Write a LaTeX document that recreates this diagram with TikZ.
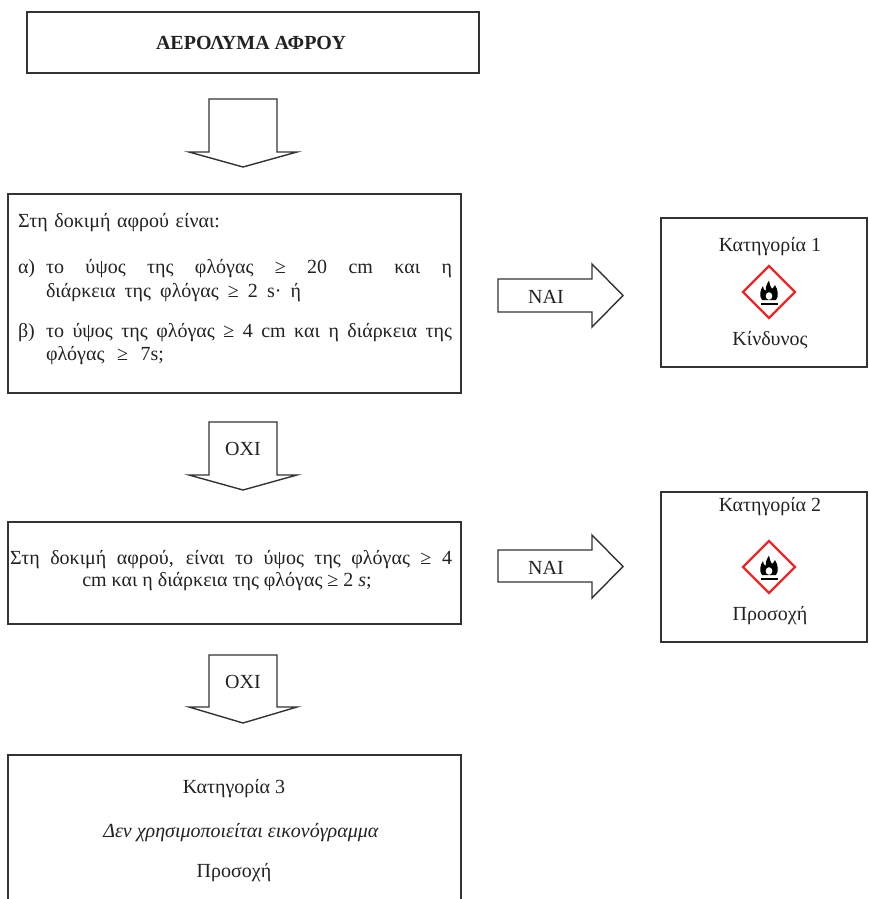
\documentclass[tikz,border=0pt]{standalone}
\usepackage{fontspec}
\setmainfont{Liberation Serif}
\definecolor{lc}{HTML}{333333}
\definecolor{tc}{HTML}{222222}
\definecolor{ghsred}{HTML}{E8282B}
\newcommand\txtsize{\fontsize{20}{24}\selectfont}
\begin{document}
\begin{tikzpicture}[x=1pt,y=-1pt,
  box/.style={draw=lc, line width=1.8pt, fill=white, inner sep=0pt, outer sep=0pt, rectangle},
  blockarrow/.style={draw=lc, line width=1.4pt, fill=white, line join=miter},
  txt/.style={inner sep=0pt, outer sep=0pt, text=tc, font=\txtsize},
  ghsflame/.pic={
    \draw[ghsred, line width=2.4pt, fill=white, line join=miter] (-26,0) -- (0,-26) -- (26,0) -- (0,26) -- cycle;
    \fill[black] (-7,8) .. controls (-10,4) and (-9,-2) .. (-6,-6)
      .. controls (-6,-3) and (-5,-2) .. (-3,-1)
      .. controls (-4,-5) and (-2,-8) .. (0,-11.5)
      .. controls (0,-8) and (2,-5) .. (3,-3)
      .. controls (4,-4) and (5,-5) .. (6,-7)
      .. controls (9,-2) and (10,4) .. (7,8) -- cycle;
    \fill[white] (0,4) ellipse [x radius=3.3, y radius=3.8];
    \fill[black] (-8.5,10.5) rectangle (8.5,12.5);
  }]
\useasboundingbox (0,0) rectangle (869,899);
\clip (0,0) rectangle (869,899);

% boxes
\node[box, minimum width=452pt, minimum height=61pt] (title) at (253,42.5) {};
\node[box, minimum width=453pt, minimum height=199pt] (q1) at (234.5,293.5) {};
\node[box, minimum width=453pt, minimum height=102pt] (q2) at (234.5,573) {};
\node[box, minimum width=453pt, minimum height=175pt] (c3) at (234.5,842.5) {};
\node[box, minimum width=206pt, minimum height=149pt] (c1) at (764,292.5) {};
\node[box, minimum width=206pt, minimum height=150pt] (c2) at (764,567) {};

% title text
\node[txt, anchor=base, font=\txtsize\bfseries] (titletxt) at (251,50) {ΑΕΡΟΛΥΜΑ\ ΑΦΡΟΥ};

% question 1 text
\node[txt, anchor=base west] (q1a) at (18,227) {\makebox[202pt][s]{Στη δοκιμή αφρού είναι:}};
\node[txt, anchor=base west] (q1b) at (18,273) {α)};
\node[txt, anchor=base west] (q1c) at (46,273) {\makebox[406pt][s]{το ύψος της φλόγας ≥ 20 cm και η}};
\node[txt, anchor=base west] (q1d) at (46,297) {\makebox[255pt][s]{διάρκεια της φλόγας ≥ 2 s· ή}};
\node[txt, anchor=base west] (q1e) at (18,337) {β)};
\node[txt, anchor=base west] (q1f) at (46,337) {\makebox[406pt][s]{το ύψος της φλόγας ≥ 4 cm και η διάρκεια της}};
\node[txt, anchor=base west] (q1g) at (46,360) {\makebox[118pt][s]{φλόγας ≥ 7s;}};

% question 2 text
\node[txt, anchor=base west] (q2a) at (10,564) {\makebox[442pt][s]{Στη δοκιμή αφρού, είναι το ύψος της φλόγας ≥ 4}};
\node[txt, anchor=base] (q2b) at (227,586) {cm και η διάρκεια της φλόγας ≥ 2 \textit{s};};

% category 1
\node[txt, anchor=base] (c1a) at (770,251) {Κατηγορία\ 1};
\pic at (769,292) {ghsflame};
\node[txt, anchor=base] (c1b) at (770,345) {Κίνδυνος};

% category 2
\node[txt, anchor=base] (c2a) at (770,511) {Κατηγορία\ 2};
\pic at (769,567) {ghsflame};
\node[txt, anchor=base] (c2b) at (770,620) {Προσοχή};

% category 3
\node[txt, anchor=base] (c3a) at (234,793) {Κατηγορία\ 3};
\node[txt, anchor=base] (c3b) at (241,837) {\textit{Δεν χρησιμοποιείται εικονόγραμμα}};
\node[txt, anchor=base] (c3c) at (234,877) {Προσοχή};

% block arrows
\draw[blockarrow] (209,99) -- (277,99) -- (277,152) -- (297,152) -- (243,167) -- (189,152) -- (209,152) -- cycle;
\draw[blockarrow] (209,422) -- (277,422) -- (277,475) -- (297,475) -- (243,490) -- (189,475) -- (209,475) -- cycle;
\node[txt, anchor=base] (no1) at (243,455) {ΟΧΙ};
\draw[blockarrow] (209,655) -- (277,655) -- (277,707) -- (297,707) -- (243,723) -- (189,707) -- (209,707) -- cycle;
\node[txt, anchor=base] (no2) at (243,688) {ΟΧΙ};

\draw[blockarrow] (498,279) -- (592,279) -- (592,264) -- (623,295.5) -- (592,327) -- (592,312) -- (498,312) -- cycle;
\node[txt, anchor=base] (yes1) at (546,303) {ΝΑΙ};
\draw[blockarrow] (498,550) -- (592,550) -- (592,535) -- (623,566.5) -- (592,598) -- (592,582) -- (498,582) -- cycle;
\node[txt, anchor=base] (yes2) at (546,574) {ΝΑΙ};
\end{tikzpicture}
\end{document}
